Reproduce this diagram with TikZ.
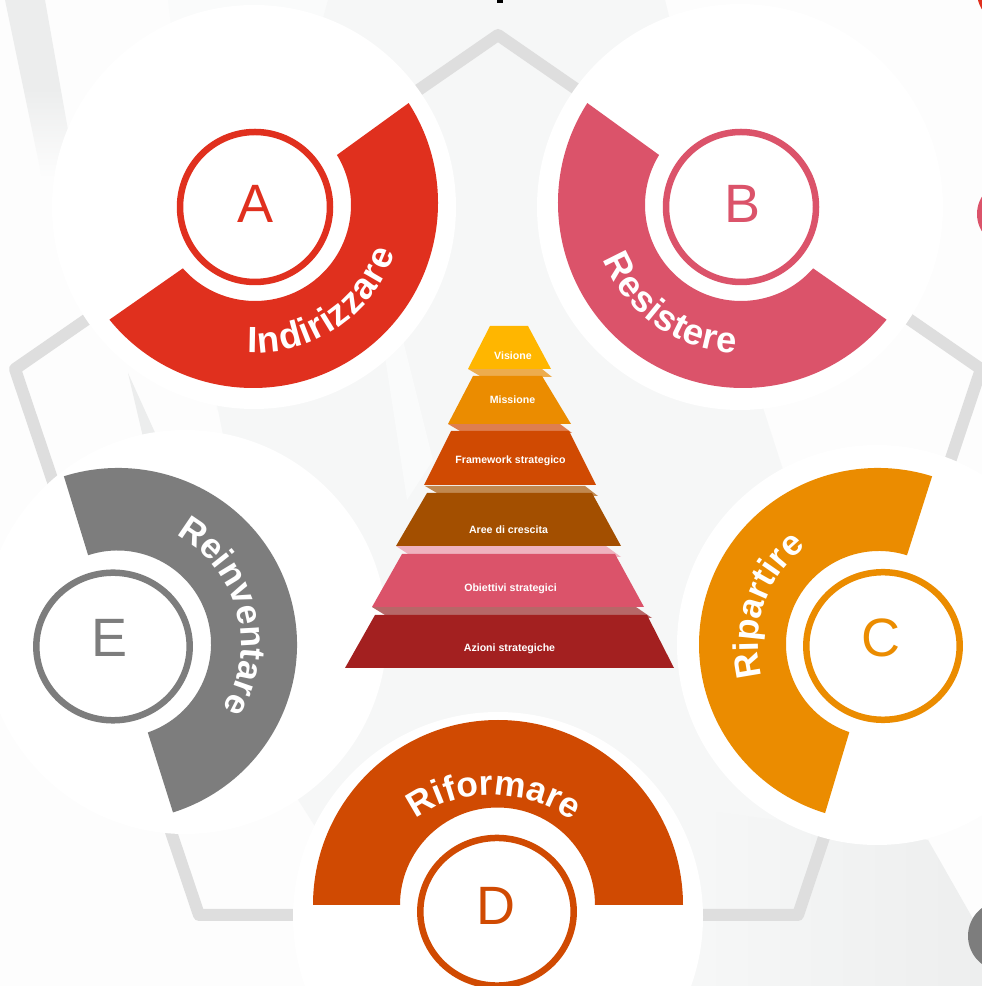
\documentclass[tikz,border=0pt]{standalone}
\usepackage{fontspec}
\setmainfont{Liberation Sans}
\usetikzlibrary{decorations.text}
\definecolor{cred}{HTML}{E0301E}
\definecolor{cpink}{HTML}{DB536A}
\definecolor{corange}{HTML}{EB8C00}
\definecolor{cdark}{HTML}{D04A02}
\definecolor{cgrey}{HTML}{7D7D7D}
\definecolor{cyellow}{HTML}{FFB600}
\definecolor{cbrown}{HTML}{A34F00}
\definecolor{cwine}{HTML}{A32020}
\definecolor{frame}{HTML}{DEDEDE}
\definecolor{bgbase}{HTML}{FDFDFD}
\definecolor{bgmid}{HTML}{F6F7F7}
\definecolor{bgsoft}{HTML}{FAFBFB}
\definecolor{bgdark}{HTML}{EDEEEE}
\definecolor{bgband}{HTML}{ECEDED}
\tikzset{
  halo/.style={fill=white},
  ringc/.style={draw=#1,line width=6.5pt,fill=white},
  letter/.style={text=#1,inner sep=0pt,font=\fontsize{54}{54}\selectfont},
  tier/.style={text=white,inner sep=0pt,font=\fontsize{10.6}{11}\selectfont\bfseries},
  curved/.style={decorate,decoration={text along path,text align=center,
    text={|\fontsize{35.3}{36}\selectfont\bfseries\color{white}|#1}}},
  curvedwide/.style={decorate,decoration={text effects along path,text={#1},
    text effects/.cd,text along path,fit text to path,
    characters={font=\fontsize{36.5}{37}\selectfont\bfseries,text=white}}},
}
\begin{document}
\begin{tikzpicture}[x=1pt,y=1pt]
\useasboundingbox (0,0) rectangle (982,986);
\clip (0,0) rectangle (982,986);
% background
\fill[bgbase] (0,0) rectangle (982,986);
\fill[bgsoft] (168,986-0) -- (665,986-0) -- (763,986-408) -- (783,986-470) -- (700,986-600) -- (217,986-410) -- cycle;
\fill[bgmid] (328,986-0) -- (665,986-0) -- (763,986-408) -- (783,986-470) -- (700,986-600) -- (750,986-800) -- (928,986-840) -- (985,986-940) -- (985,986-986) -- (340,986-986) -- (330,986-850) -- (295,986-795) -- (217,986-405) -- cycle;
\fill[bgsoft] (385,986-357) -- (403,986-340) -- (433,986-460) -- (407,986-500) -- cycle;
\shade[left color=bgmid,right color=bgdark] (700,986-986) -- (700,986-810) -- (928,986-840) -- (985,986-940) -- (985,986-986) -- cycle;
\shade[top color=bgband,bottom color=bgbase,middle color=bgband] (5,986-0) -- (45,986-0) -- (68,986-130) -- (56,986-178) -- (42,986-178) -- cycle;
\fill[bgband] (128,986-373) -- (157,986-437) -- (143,986-437) -- cycle;
% pentagon frame
\draw[frame,line width=12pt,line join=round] (498,986-35) -- (981,986-369) -- (798,986-915) -- (199,986-915) -- (15,986-369) -- cycle;
% discs on the right edge
\fill[cred] (1010,986+8) circle[radius=33];
\fill[cpink] (1010,986-214) circle[radius=33];
\fill[corange] (1010,986-499) circle[radius=33];
\fill[cdark] (1010,986-718) circle[radius=33];
\fill[cgrey] (1003,986-936) circle[radius=35];
\fill[black] (497,986-0) rectangle (503,986-3);
% white discs
\fill[halo] (254,986-207) circle[radius=202];
\fill[halo] (740,986-207) circle[radius=203];
\fill[halo] (877,986-645) circle[radius=200];
\fill[halo] (185,986-632) circle[radius=202];
\fill[halo] (498,986-917) circle[radius=205];
% sectors
\fill[cred] ([shift={(253,986-203)}]32.7:185) arc[start angle=32.7,end angle=-140.9,radius=185] -- ([shift={(255,986-205)}]-138.7:96) arc[start angle=-138.7,end angle=31.4,radius=96] -- cycle;
\fill[cpink] ([shift={(743,986-203)}]147.3:185) arc[start angle=147.3,end angle=320.9,radius=185] -- ([shift={(741,986-205)}]318.7:96) arc[start angle=318.7,end angle=148.6,radius=96] -- cycle;
\fill[corange] ([shift={(878,986-644.5)}]72.4:179 and 176.5) arc[start angle=72.4,end angle=252.8,x radius=179,y radius=176.5] -- ([shift={(879,986-644)}]251.4:93) arc[start angle=251.4,end angle=72.5,radius=93] -- cycle;
\fill[cgrey] ([shift={(118,986-644.5)}]107.6:179 and 176.5) arc[start angle=107.6,end angle=-72.1,x radius=179,y radius=176.5] -- ([shift={(117.5,986-644)}]-71.1:93.5) arc[start angle=-71.1,end angle=108.3,radius=93.5] -- cycle;
\fill[cdark] (313,986-905) arc[start angle=180,end angle=0,radius=185] -- (595,986-905) arc[start angle=0,end angle=180,radius=97.5] -- cycle;
% rings and letters
\draw[ringc=cred] (255,986-207) circle[radius=75];
\draw[ringc=cpink] (741,986-207) circle[radius=75];
\draw[ringc=corange] (883,986-646) circle[x radius=76.7,y radius=73.8];
\draw[ringc=cdark] (497,986-911.75) circle[x radius=76.7,y radius=73.8];
\draw[ringc=cgrey] (113,986-646.5) circle[x radius=76.7,y radius=73.8];
\node[letter=cred] (la) at (256,986-204) {A};
\node[letter=cpink] (lb) at (743,986-204) {B};
\node[letter=corange] (lc) at (881,986-638) {C};
\node[letter=cdark] (ld) at (496,986-906) {D};
\node[letter=cgrey] (le) at (109.5,986-638) {E};
% curved labels
\path[curvedwide=Indirizzare] ([shift={(255,986-205)}]-93:148) arc[start angle=-93,end angle=-19,radius=148];
\path[curvedwide=Resistere] ([shift={(741,986-205)}]-158.5:148) arc[start angle=-158.5,end angle=-92,radius=148];
\path[curved=Reinventare] ([shift={(117,986-644)}]75:124) arc[start angle=75,end angle=-45,radius=124];
\path[curved=Ripartire] ([shift={(880,986-644)}]211:122) arc[start angle=211,end angle=112,radius=122];
\path[curved=Riformare] (395,986-840) .. controls (440,986-780) and (540,986-780) .. (595,986-840);
% pyramid
\fill[fill={rgb,255:red,237;green,172;blue,77}] (468,986-369) -- (480,986-376) -- (552,986-377) -- (542,986-369) -- cycle;
\fill[cyellow] (490,986-326) -- (528,986-326) -- (551,986-369) -- (468,986-369) -- cycle;
\fill[fill={rgb,255:red,222;green,126;blue,79}] (448,986-424) -- (460,986-431) -- (572,986-433) -- (560,986-424) -- cycle;
\fill[corange] (473,986-376) -- (542,986-376) -- (571,986-424) -- (448,986-424) -- cycle;
\fill[fill={rgb,255:red,193;green,136;blue,79}] (425,986-486) -- (437,986-493) -- (598,986-496) -- (585,986-486) -- cycle;
\fill[cdark] (451,986-431) -- (569,986-431) -- (596,986-485) -- (424,986-485) -- cycle;
\fill[fill={rgb,255:red,239;green,178;blue,191}] (396,986-546) -- (408,986-554) -- (621,986-557) -- (606,986-546) -- cycle;
\fill[cbrown] (427,986-493) -- (592,986-493) -- (621,986-546) -- (396,986-546) -- cycle;
\fill[fill={rgb,255:red,183;green,103;blue,104}] (372,986-607) -- (385,986-615) -- (652,986-618) -- (636,986-607) -- cycle;
\fill[cpink] (402,986-554) -- (615,986-554) -- (644,986-607) -- (372,986-607) -- cycle;
\fill[cwine] (375,986-615) -- (647,986-615) -- (674,986-668) -- (345,986-668) -- cycle;
\node[tier] (t1) at (513,986-356) {Visione};
\node[tier] (t2) at (512.5,986-399.5) {Missione};
\node[tier] (t3) at (510.5,986-461) {Framework strategico};
\node[tier] (t4) at (508.5,986-529.5) {Aree di crescita};
\node[tier] (t5) at (510.5,986-589) {Obiettivi strategici};
\node[tier] (t6) at (509.5,986-649) {Azioni strategiche};
\end{tikzpicture}
\end{document}
